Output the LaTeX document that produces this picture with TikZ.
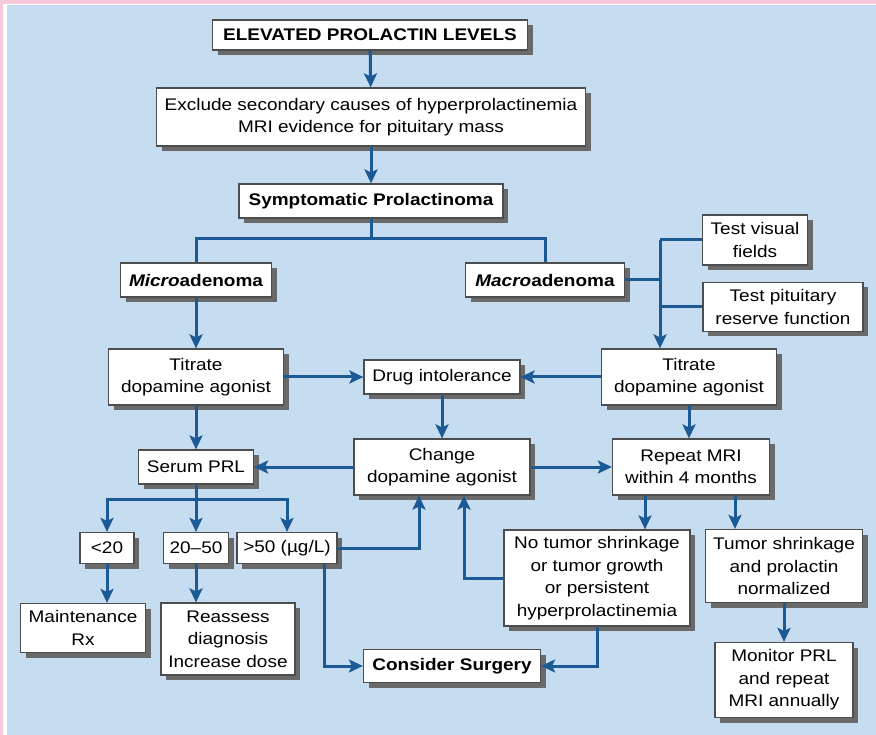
\documentclass[tikz,border=0pt]{standalone}
\usepackage{fontspec}
\setmainfont[FakeStretch=1.13]{Liberation Sans}
\usetikzlibrary{arrows.meta,shadows}
\definecolor{pinkbg}{HTML}{F8C8DD}
\definecolor{bluebg}{HTML}{C5DCF1}
\definecolor{flow}{HTML}{1B5A94}
\definecolor{rim}{HTML}{4D4D4D}
\definecolor{shade}{HTML}{6A6A6A}
\begin{document}
\begin{tikzpicture}[x=1pt, y=-1pt,
    box/.style={draw=rim, line width=1.2pt, fill=white, align=center, inner sep=0pt,
      font=\fontsize{16.8}{22.5}\selectfont,
      drop shadow={shadow xshift=5pt, shadow yshift=-5pt, fill=shade, opacity=1}},
    link/.style={draw=flow, line width=3pt},
    arr/.style={link, -{Stealth[length=14pt, width=13pt, inset=3pt]}}]
  % background
  \useasboundingbox (0,0) rectangle (876,735);
  \fill[pinkbg] (0,0) rectangle (876,735);
  \fill[white] (3,4) rectangle (876,735);
  \fill[bluebg] (7,5) rectangle (876,735);

  % boxes
  \node[box, minimum width=315, minimum height=30] (elev) at (370,35) {\bfseries ELEVATED PROLACTIN LEVELS};
  \node[box, minimum width=429, minimum height=58] (excl) at (371,117) {Exclude secondary causes of hyperprolactinemia\\MRI evidence for pituitary mass};
  \node[box, minimum width=264, minimum height=34] (sympt) at (371,201) {\bfseries Symptomatic Prolactinoma};
  \node[box, minimum width=151, minimum height=34] (micro) at (196,280) {\bfseries\itshape Micro\upshape adenoma};
  \node[box, minimum width=159, minimum height=34] (macro) at (545,280) {\bfseries\itshape Macro\upshape adenoma};
  \node[box, minimum width=105, minimum height=50] (visual) at (755,240) {Test visual\\fields};
  \node[box, minimum width=160, minimum height=49] (reserve) at (783,307) {Test pituitary\\reserve function};
  \node[box, minimum width=175, minimum height=56] (titL) at (196,377) {Titrate\\dopamine agonist};
  \node[box, minimum width=156, minimum height=34] (drug) at (442,377) {Drug intolerance};
  \node[box, minimum width=175, minimum height=56] (titR) at (689,377) {Titrate\\dopamine agonist};
  \node[box, minimum width=115, minimum height=34] (serum) at (196,467) {Serum PRL};
  \node[box, minimum width=176, minimum height=56] (change) at (442,467) {Change\\dopamine agonist};
  \node[box, minimum width=157, minimum height=56] (mri) at (691,467) {Repeat MRI\\within 4 months};
  \node[box, minimum width=54, minimum height=31] (low) at (107,548) {<20};
  \node[box, minimum width=65, minimum height=31] (mid) at (196,548) {20--50};
  \node[box, minimum width=100, minimum height=31] (high) at (287,548) {>50 (µg/L)};
  \node[box, minimum width=125, minimum height=49] (maint) at (83,628) {Maintenance\\Rx};
  \node[box, minimum width=134, minimum height=72] (reass) at (228,639) {Reassess\\diagnosis\\Increase dose};
  \node[box, minimum width=177, minimum height=33] (surgery) at (452,666) {\bfseries Consider Surgery};
  \node[box, minimum width=186, minimum height=96] (noshrink) at (597,578) {No tumor shrinkage\\or tumor growth\\or persistent\\hyperprolactinemia};
  \node[box, minimum width=157, minimum height=73] (shrink) at (784,566) {Tumor shrinkage\\and prolactin\\normalized};
  \node[box, minimum width=138, minimum height=75] (monitor) at (784,680) {Monitor PRL\\and repeat\\MRI annually};

  % connectors
  \draw[arr] (elev) -- (excl);
  \draw[arr] (excl) -- (sympt);
  \draw[link] (sympt.south) -- ++(0,20) -| (micro.north);
  \draw[link] (sympt.south) -- ++(0,20) -| (macro.north);
  \draw[arr] (micro) -- (titL);
  \coordinate (fork) at (660,240);
  \draw[link] (macro.east) -- (macro.east -| fork);
  \draw[link] (fork) -- (visual.west);
  \draw[link] (fork |- reserve.west) -- (reserve.west);
  \draw[arr] (fork) -- (fork |- titR.north);
  \draw[arr] (titL) -- (drug);
  \draw[arr] (titR) -- (drug);
  \draw[arr] (drug) -- (change);
  \draw[arr] (titL) -- (serum);
  \draw[arr] (titR) -- (titR.south |- mri.north);
  \draw[arr] (change) -- (serum);
  \draw[arr] (change) -- (mri);
  \draw[arr] (serum.south) -- ++(0,15) -| (low.north);
  \draw[arr] (serum.south) -- (mid.north);
  \draw[arr] (serum.south) -- ++(0,15) -| (high.north);
  \draw[arr] (low) -- (low.south |- maint.north);
  \draw[arr] (mid) -- (mid.south |- reass.north);
  \draw[arr] (high.east) -| ([xshift=-23pt]change.south);
  \draw[arr] ([xshift=37pt]high.south) |- (surgery.west);
  \draw[arr] (noshrink.west) -| ([xshift=22pt]change.south);
  \draw[arr] (noshrink.south) |- (surgery.east);
  \draw[arr] ([xshift=-46pt]mri.south) -- ([xshift=-46pt]mri.south |- noshrink.north);
  \draw[arr] ([xshift=44pt]mri.south) -- ([xshift=44pt]mri.south |- shrink.north);
  \draw[arr] (shrink) -- (monitor);
\end{tikzpicture}
\end{document}
